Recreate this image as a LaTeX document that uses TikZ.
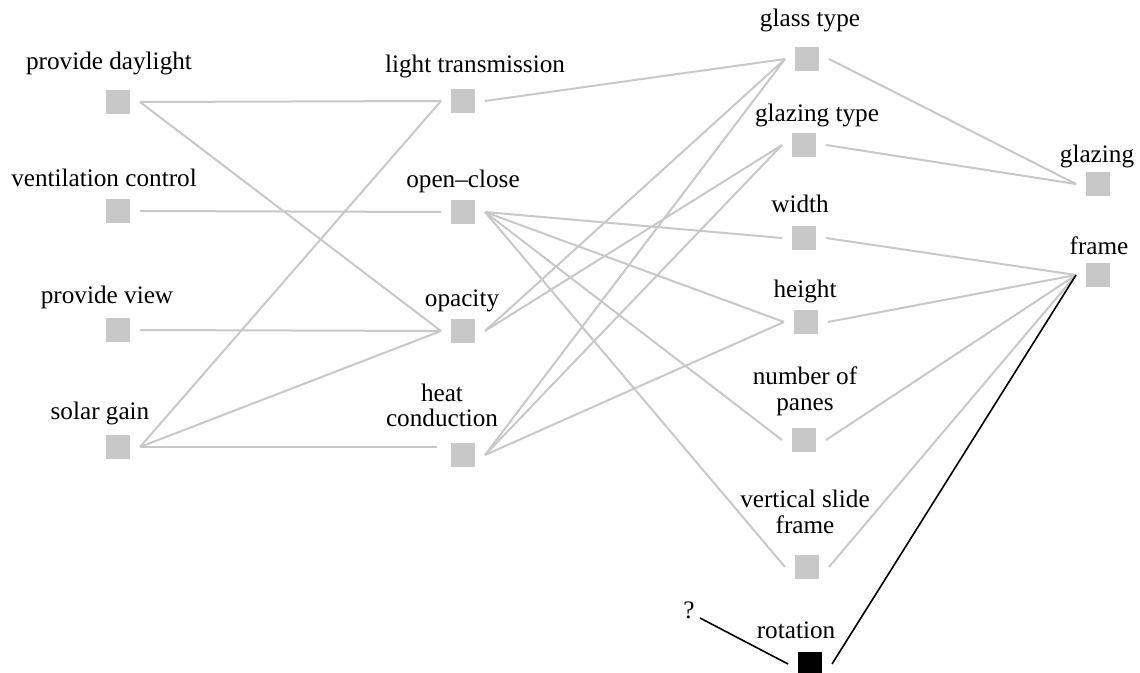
\documentclass[tikz,border=0pt]{standalone}
\usepackage{fontspec}
\setmainfont{Liberation Serif}
\definecolor{boxgray}{HTML}{C8C8C8}
\definecolor{linkgray}{HTML}{C8C8C8}
\begin{document}
\begin{tikzpicture}[x=0.5pt,y=-0.5pt,
  sq/.style={rectangle,fill=boxgray,minimum size=12pt,inner sep=0pt,outer xsep=5pt,outer ysep=0pt},
  sqdark/.style={sq,fill=black},
  lbl/.style={inner sep=0pt,anchor=base,align=center,font=\fontsize{12.6}{12.6}\selectfont},
  link/.style={draw=linkgray,line width=1pt},
  keylink/.style={draw=black,line width=0.8pt}]
\useasboundingbox (0,0) rectangle (1140,673);

% requirements
\node[sq] (pd) at (118,102) {};
\node[sq] (vc) at (118,211) {};
\node[sq] (pv) at (118,330) {};
\node[sq] (sg) at (118,447) {};
\node[lbl] (pd-l) at (109,70)  {provide daylight};
\node[lbl] (vc-l) at (104,187) {ventilation control};
\node[lbl] (pv-l) at (107,304) {provide view};
\node[lbl] (sg-l) at (100,420) {solar gain};

% functions
\node[sq] (lt) at (463,101) {};
\node[sq] (oc) at (463,212) {};
\node[sq] (op) at (463,331) {};
\node[sq] (hc) at (463,455) {};
\coordinate (hc-in) at (437,447);
\node[lbl] (lt-l) at (475,73)  {light transmission};
\node[lbl] (oc-l) at (463,188) {open--close};
\node[lbl] (op-l) at (462,307) {opacity};
\node[lbl] (hc-l) at (442,427) {heat\\conduction};

% parameters
\node[sq] (gt) at (807,59)  {};
\node[sq] (gz) at (804,145) {};
\node[sq] (wd) at (804,238) {};
\node[sq] (ht) at (806,322) {};
\node[sq] (np) at (804,440) {};
\node[sq] (vs) at (807,567) {};
\node[sqdark] (rot) at (810,664) {};
\node[lbl] (gt-l) at (810,27)  {glass type};
\node[lbl] (gz-l) at (817,122) {glazing type};
\node[lbl] (wd-l) at (800,213) {width};
\node[lbl] (ht-l) at (805,298) {height};
\node[lbl] (np-l) at (805,410) {number of\\panes};
\node[lbl] (vs-l) at (805,533) {vertical slide\\frame};
\node[lbl] (rot-l) at (796,638) {rotation};

% components
\node[sq] (gl) at (1098,184) {};
\node[sq] (fr) at (1098,275) {};
\node[lbl] (gl-l) at (1097,163) {glazing};
\node[lbl] (fr-l) at (1099,255) {frame};

% open question
\node[lbl,inner xsep=2.5pt] (q) at (689,618) {?};

% requirements -> functions
\path[link] (pd.east) -- (lt.west);
\path[link] (pd.east) -- (op.west);
\path[link] (vc.east) -- (oc.west);
\path[link] (pv.east) -- (op.west);
\path[link] (sg.east) -- (lt.west);
\path[link] (sg.east) -- (op.west);
\path[link] (sg.east) -- (hc-in);

% functions -> parameters
\path[link] (lt.east) -- (gt.west);
\path[link] (oc.east) -- (wd.west);
\path[link] (oc.east) -- (ht.west);
\path[link] (oc.east) -- (np.west);
\path[link] (oc.east) -- (vs.west);
\path[link] (op.east) -- (gt.west);
\path[link] (op.east) -- (gz.west);
\path[link] (hc.east) -- (gt.west);
\path[link] (hc.east) -- (gz.west);
\path[link] (hc.east) -- (ht.west);

% parameters -> components
\path[link] (gt.east) -- (gl.west);
\path[link] (gz.east) -- (gl.west);
\path[link] (wd.east) -- (fr.west);
\path[link] (ht.east) -- (fr.west);
\path[link] (np.east) -- (fr.west);
\path[link] (vs.east) -- (fr.west);

% highlighted parameter
\path[keylink] (rot.east) -- (fr.west);
\path[keylink] (q.base east) -- (rot.west);
\end{tikzpicture}
\end{document}
